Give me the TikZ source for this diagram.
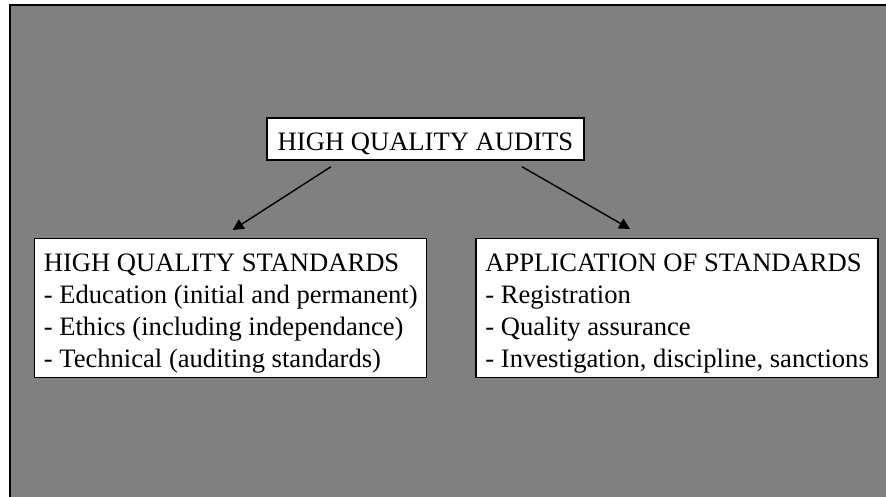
\documentclass[tikz,border=0pt]{standalone}
\usepackage{fontspec}
\setmainfont{Liberation Serif}
\usetikzlibrary{%
    arrows.meta,
    calc,
    positioning
}
\tikzset{headarrow/.style = {-{Triangle[length=11pt,width=11pt]}, line width=1.4pt}}
\tikzset{titlebox/.style = {draw, line width=1.4pt, fill=white, inner sep=0pt,
    font=\fontsize{26.6}{32}\selectfont}}
\tikzset{listbox/.style = {titlebox, align=left, inner xsep=8pt,
    text height=129pt, text depth=10pt}}

\begin{document}
\begin{tikzpicture}[x=1pt,y=-1pt]
    \useasboundingbox (0,0) rectangle (886,497);
    \fill[white] (0,0) rectangle (886,497);
    \draw[line width=2pt, fill=gray] (10,5) rectangle (900,510);

    \node[titlebox,minimum width=317pt,minimum height=42pt,
          text height=24pt,text depth=0pt] (audits) at (425.5,139) {HIGH QUALITY AUDITS};
    \node[listbox,minimum width=392pt,anchor=north west] (stds) at (34,238)
        {HIGH QUALITY STANDARDS\\
         - Education (initial and permanent)\\
         - Ethics (including independance)\\
         - Technical (auditing standards)};
    \node[listbox,minimum width=402pt] (appl) [right=48pt of stds]
        {APPLICATION OF STANDARDS\\
         - Registration\\
         - Quality assurance\\
         - Investigation, discipline, sanctions};

    \draw[headarrow] ([xshift=-94.5pt,yshift=-6pt]audits.south) -- ([xshift=2pt,yshift=8pt]stds.north);
    \draw[headarrow] ([xshift=96.5pt,yshift=-6pt]audits.south) -- ([xshift=-47pt,yshift=9pt]appl.north);
\end{tikzpicture}
\end{document}
